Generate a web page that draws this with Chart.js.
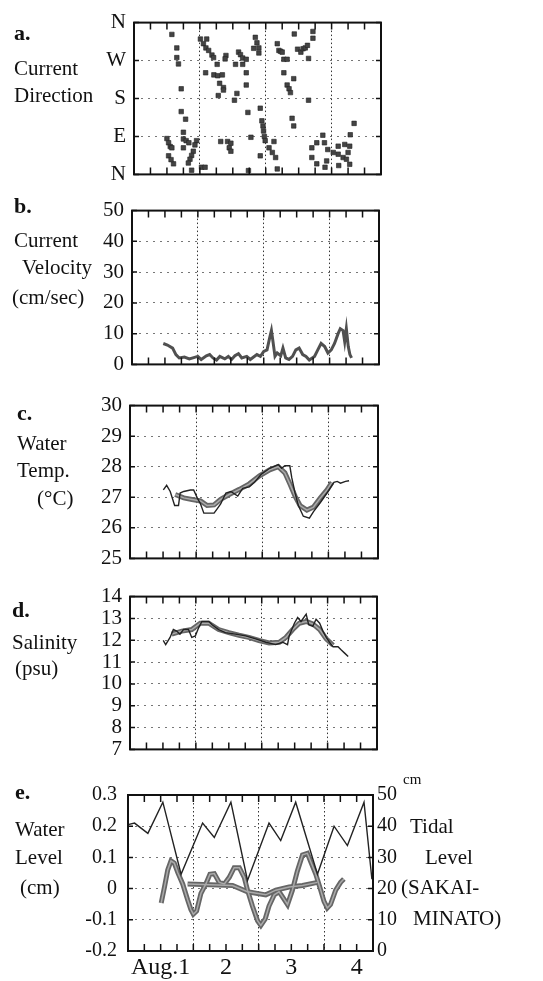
<!DOCTYPE html>
<html>
<head>
<meta charset="utf-8">
<script src="https://cdn.jsdelivr.net/npm/chart.js@4.4.0/dist/chart.umd.min.js"></script>
<style>
  body { margin: 0; background: #fff; }
  #wrap { position: relative; width: 543px; height: 981px; overflow: hidden;
          font-family: "Liberation Serif", "Times New Roman", serif; color: #111; }
  #wrap canvas { position: absolute; left: 0; }
  .lbl { position: absolute; font-size: 21px; line-height: 22px; white-space: nowrap; }
  .let { font-weight: bold; font-size: 22px; }
</style>
</head>
<body>
<div id="wrap">
  <canvas id="chA" width="543" height="193" style="top:2px"></canvas>
  <canvas id="chB" width="543" height="195" style="top:190px"></canvas>
  <canvas id="chC" width="543" height="194" style="top:385px"></canvas>
  <canvas id="chD" width="543" height="194" style="top:576px"></canvas>
  <canvas id="chE" width="543" height="209" style="top:772px"></canvas>

  <div class="lbl let" style="left:14px;top:22px">a.</div>
  <div class="lbl" style="left:14px;top:57px">Current</div>
  <div class="lbl" style="left:14px;top:84px">Direction</div>

  <div class="lbl let" style="left:14px;top:195px">b.</div>
  <div class="lbl" style="left:14px;top:229px">Current</div>
  <div class="lbl" style="left:22px;top:256px">Velocity</div>
  <div class="lbl" style="left:12px;top:286px">(cm/sec)</div>

  <div class="lbl let" style="left:17px;top:402px">c.</div>
  <div class="lbl" style="left:17px;top:432px">Water</div>
  <div class="lbl" style="left:17px;top:459px">Temp.</div>
  <div class="lbl" style="left:37px;top:487px">(°C)</div>

  <div class="lbl let" style="left:12px;top:599px">d.</div>
  <div class="lbl" style="left:12px;top:631px">Salinity</div>
  <div class="lbl" style="left:15px;top:657px">(psu)</div>

  <div class="lbl let" style="left:15px;top:781px">e.</div>
  <div class="lbl" style="left:15px;top:818px">Water</div>
  <div class="lbl" style="left:15px;top:846px">Level</div>
  <div class="lbl" style="left:20px;top:876px">(cm)</div>

  <div class="lbl" style="left:403px;top:768px;font-size:15px">cm</div>
  <div class="lbl" style="left:410px;top:815px">Tidal</div>
  <div class="lbl" style="left:425px;top:846px">Level</div>
  <div class="lbl" style="left:401px;top:876px">(SAKAI-</div>
  <div class="lbl" style="left:413px;top:907px">MINATO)</div>
</div>

<script>
// hours from Aug.1 00:00
var dayLines = [24, 48, 72];
var hourMarks = [6, 12, 18, 24, 30, 36, 42, 48, 54, 60, 66, 72, 78, 84];
var dayCenters = [12, 36, 60, 84];
var dayLabels = ['Aug.1', '2', '3', '4'];

// a. current direction (deg)
var dirTicks = [0, 90, 180, 270, 360];
var dirLabels = ['N', 'E', 'S', 'W', 'N'];
var dirHours = [13.8,15.6,15.6,16.2,17.2,17.2,18.8,18,18,19,20,18,12,12.6,13.2,13.8,12.6,14.4,13.5,22.8,22.2,21.6,21,20.4,19.8,21,24.6,
  24.2,25.3,26.2,27.2,28.4,29,26.5,30.3,33.5,33.2,37,39.6,38.1,38.8,39.6,44.2,44.8,45.5,45.5,43.6,40.9,26.1,29.1,30.5,32.2,31.2,32.6,32.6,30.7,36.6,
  37.5,40.9,40.9,41.5,46,46.6,47,47.2,47.5,47.8,42.6,31.6,34.1,35.3,34.7,35.3,46,25.9,41.7,
  52.2,52.8,53.4,54,54.6,55.8,58.4,59.6,60.8,61.6,62.4,63.2,65.2,65.2,63.6,54.6,58.2,55.8,56.5,57,63.6,57.6,58.2,51,49.2,50.4,51.6,52.2,64.8,66.6,
  68.8,69.4,70.6,72.6,74.4,76.2,77.4,64.8,66.6,70.2,69.6,74.4,76.8,78.6,74.6,78,78.6,80.2,78.8];
var dirDeg = [332,300,277,262,203,149,131,100,84,80,75,63,85,75,66,63,44,25,35,80,70,55,45,36,27,10,17,
  321,310,300,294,283,277,321,261,282,274,261,261,290,284,276,325,312,300,288,299,273,241,236,234,236,216,206,200,187,176,
  192,241,212,147,157,127,115,103,90,80,88,78,78,74,63,55,44,17,9,
  310,294,292,290,273,273,333,297,290,298,300,306,339,323,275,241,227,212,203,194,176,133,115,78,63,52,40,13,63,75,
  93,75,59,52,48,40,36,40,25,32,17,67,71,67,21,52,24,121,94];

// b. current velocity (cm/sec)
var velHours = [11.4,12.9,14.8,16,17.2,19.1,20.9,22.8,24,25.2,27.1,28.3,29.5,30.8,32,33.8,35.1,36.3,37.5,38.8,
  40,41.8,43.1,44.3,45.5,46.8,48,49.2,50.1,50.8,51.3,52.1,52.9,54.2,55,56,57.2,58.5,59.7,60.9,
  62.2,63.4,64.6,66.5,67.7,68.9,70.2,71.4,72.6,73.8,75.1,75.9,76.9,77.5,78.1,78.8,79.4,80];
var velocity = [6.8,6.3,5.3,3.2,2.1,2.4,1.8,2.3,2.6,1.6,2.8,3.2,2.1,1.4,2.6,1.8,2.6,1.6,2.8,3.5,
  2.1,2.6,1.6,2.4,3.2,2.6,4.2,4.7,8.4,11,7.9,2.6,3.7,2.8,5.3,2.1,1.6,2.6,4.7,5.3,
  3.2,2.6,1.4,2.6,4.7,6.8,5.8,3.7,4.7,6.8,10,11.6,11,7.4,11.6,5.8,3.2,2.1];

// c. water temperature (deg C)
var tempThinHours = [12.1,13.3,14.6,16.2,17.6,18.2,19.5,21.9,23.1,24.4,25.6,26.8,30.5,31.7,32.9,34.8,36.6,39.1,40.9,43.3,
  45.2,47.6,50.7,53.8,55,56.2,58,58.7,59.9,61.1,62.9,65.1,66.6,69.1,71.5,74,75.2,76.4,78.2,79.5];
var tempThin = [27.24,27.39,27.19,26.73,26.73,27.14,27.19,27.24,27.24,26.98,26.78,26.48,26.48,26.63,26.78,27.14,27.19,27.04,27.29,27.34,
  27.49,27.75,27.95,28.07,27.95,28.03,28.03,27.64,27.14,26.73,26.38,26.32,26.53,26.83,27.14,27.49,27.52,27.46,27.52,27.54];
var tempBandHours = [16.4,19.5,22.5,25.6,28,30.5,32.9,36,39.7,43.3,47,50.7,53.8,56.2,58,59.9,61.7,64.2,66.6,69.1,71.5,73.3];
var tempBand = [27.09,26.98,26.93,26.88,26.73,26.75,26.93,27.09,27.26,27.44,27.7,27.9,28.0,27.8,27.44,27.04,26.73,26.58,26.68,26.98,27.24,27.49];

// d. salinity (psu)
var salThinHours = [12.1,13,14.6,15.8,17,18.2,19.5,21.3,22.5,23.8,25,26.2,28.7,29.9,32.3,34.8,38.4,42.1,45.8,49.5,
  53.1,55.6,57.4,58,59.9,61.1,62.3,64.2,65.1,66.6,67.8,69.1,70.3,71.5,72.7,74,75.8,77,78.2,79.5];
var salThin = [11.99,11.8,12.13,12.49,12.42,12.28,12.49,12.49,12.13,12.2,12.57,12.86,12.86,12.71,12.49,12.35,12.28,12.2,12.06,11.91,
  11.8,11.91,11.8,12.2,12.78,13.04,12.86,13.2,12.71,12.64,12.96,12.78,12.42,12.13,11.91,11.7,11.7,11.55,11.41,11.26];
var salBandHours = [15.2,18.9,22.5,25.6,28.7,32.3,36,39.7,43.3,47,50.7,54.4,56.8,59.3,61.7,64.2,66.6,69.1,71.5,74];
var salBand = [12.28,12.42,12.49,12.78,12.78,12.49,12.35,12.23,12.13,11.99,11.88,11.91,12.13,12.49,12.78,12.86,12.75,12.49,12.06,11.77];

// e. water level (cm, left) and tidal level at Sakai-Minato (cm, right)
var levelHours = [12.2,13.4,14.6,15.8,17,18.3,20.1,21.9,23.1,24,25.2,26.8,28.6,30.1,31.7,33.5,35.4,37.2,39,40.9,
  42.7,43.9,45.7,47.6,48.8,50.4,51.8,53.7,55.5,56.7,58.6,60.4,62.2,64.1,65.9,67.1,69,70.8,72,73.2,74.4,76.3,78.1,79.3];
var level = [-0.046,0.005,0.06,0.089,0.082,0.051,0.015,-0.036,-0.067,-0.082,-0.072,-0.015,0.015,0.046,0.048,0.02,0.015,0.036,0.067,0.067,
  0.036,-0.005,-0.056,-0.103,-0.118,-0.097,-0.056,-0.02,-0.01,-0.026,-0.051,-0.005,0.056,0.108,0.113,0.087,0.046,-0.005,-0.041,-0.062,-0.051,-0.005,0.02,0.031];
var trendHours = [21.9,38.4,43.9,50.6,54.3,59.2,64.1,69.6];
var trend = [0.015,0.01,-0.01,-0.02,-0.005,0.005,0.01,0.02];
var tideHours = [0,2.4,7.3,12.8,19.5,27.4,31.7,37.8,43.9,51.8,56.1,61.6,69.6,75.7,80.6,86.7,89.6];
var tide = [40.5,41,37.7,47.7,24.6,41,36.4,47.7,22.6,41,35.4,47.7,24.6,40,33.8,47.7,23];

var serif = '"Liberation Serif", "Times New Roman", serif';

function pts(xs, ys) {
  return xs.map(function (x, i) { return { x: x, y: ys[i] }; });
}

// frame with inward tick marks, like the printed figure
var frameTicks = {
  id: 'frameTicks',
  afterDatasetsDraw: function (chart) {
    var ctx = chart.ctx, a = chart.chartArea, xs = chart.scales.x, ys = chart.scales.y;
    ctx.save();
    ctx.strokeStyle = '#111';
    ctx.lineWidth = 1.5;
    hourMarks.forEach(function (h) {
      var px = xs.getPixelForValue(h);
      ctx.beginPath();
      ctx.moveTo(px, a.top); ctx.lineTo(px, a.top + 7);
      ctx.moveTo(px, a.bottom); ctx.lineTo(px, a.bottom - 7);
      ctx.stroke();
    });
    ys.ticks.forEach(function (t) {
      var py = ys.getPixelForValue(t.value);
      ctx.beginPath();
      ctx.moveTo(a.left, py); ctx.lineTo(a.left + 5, py);
      ctx.moveTo(a.right, py); ctx.lineTo(a.right - 5, py);
      ctx.stroke();
    });
    ctx.lineWidth = 2;
    ctx.strokeRect(a.left, a.top, a.right - a.left, a.bottom - a.top);
    ctx.restore();
  }
};

function hourAxis() {
  return {
    type: 'linear', min: 0, max: 90, position: 'bottom',
    afterBuildTicks: function (s) { s.ticks = dayLines.map(function (v) { return { value: v }; }); },
    afterFit: function (s) { s.height = 0; },
    ticks: { display: false },
    grid: { color: '#333', lineWidth: 1, drawTicks: false },
    border: { display: false, dash: [1.5, 2.5] }
  };
}

function valueAxis(min, max, step, width, pad) {
  return {
    type: 'linear', min: min, max: max, position: 'left',
    afterFit: function (s) { s.width = width; },
    ticks: { stepSize: step, autoSkip: false, padding: pad, color: '#111', font: { family: serif, size: 21 } },
    grid: { color: '#777', lineWidth: 1, drawTicks: false },
    border: { display: false, dash: [2, 5] }
  };
}

function baseOptions(right, scales, padBottom) {
  return {
    responsive: false,
    animation: false,
    layout: { padding: { left: 0, right: right, top: 16, bottom: padBottom } },
    plugins: { legend: { display: false }, tooltip: { enabled: false } },
    scales: scales
  };
}

function thin(data, axis) {
  return { data: data, yAxisID: axis || 'y', borderColor: '#222', borderWidth: 1.4,
           pointRadius: 0, tension: 0, fill: false, order: 0 };
}
function bandOuter(data) {
  return { data: data, borderColor: '#666', borderWidth: 5, pointRadius: 0, tension: 0, fill: false, order: 2 };
}
function bandInner(data) {
  return { data: data, borderColor: '#aaa', borderWidth: 1.5, pointRadius: 0, tension: 0, fill: false, order: 1 };
}

// a.
var dirAxis = valueAxis(0, 360, 90, 134, 8);
dirAxis.afterBuildTicks = function (s) { s.ticks = dirTicks.map(function (v) { return { value: v }; }); };
dirAxis.ticks.callback = function (v, i) { return dirLabels[i]; };
new Chart(document.getElementById('chA'), {
  type: 'scatter',
  data: { datasets: [{
    data: pts(dirHours, dirDeg),
    pointStyle: 'rect', pointRadius: 3.2,
    backgroundColor: '#444', borderColor: '#222', borderWidth: 0.6
  }] },
  options: baseOptions(543 - 381, { x: hourAxis(), y: dirAxis }, 16),
  plugins: [frameTicks]
});

// b.
new Chart(document.getElementById('chB'), {
  type: 'line',
  data: { datasets: [{
    data: pts(velHours, velocity), borderColor: '#505050', borderWidth: 3,
    pointRadius: 0, tension: 0, fill: false
  }] },
  options: baseOptions(543 - 379, { x: hourAxis(), y: valueAxis(0, 50, 10, 132, 8) }, 16),
  plugins: [frameTicks]
});

// c.
new Chart(document.getElementById('chC'), {
  type: 'line',
  data: { datasets: [
    thin(pts(tempThinHours, tempThin)),
    bandInner(pts(tempBandHours, tempBand)),
    bandOuter(pts(tempBandHours, tempBand))
  ] },
  options: baseOptions(543 - 378, { x: hourAxis(), y: valueAxis(25, 30, 1, 130, 8) }, 16),
  plugins: [frameTicks]
});

// d.
new Chart(document.getElementById('chD'), {
  type: 'line',
  data: { datasets: [
    thin(pts(salThinHours, salThin)),
    bandInner(pts(salBandHours, salBand)),
    bandOuter(pts(salBandHours, salBand))
  ] },
  options: baseOptions(543 - 377, { x: hourAxis(), y: valueAxis(7, 14, 1, 130, 8) }, 16),
  plugins: [frameTicks]
});

// e.
var levelAxis = valueAxis(-0.2, 0.3, 0.1, 128, 11);
levelAxis.ticks.font.size = 20;
levelAxis.ticks.callback = function (v) { return String(Math.round(v * 10) / 10); };
var tideAxis = {
  type: 'linear', min: 0, max: 50, position: 'right',
  afterFit: function (s) { s.width = 543 - 373; },
  ticks: { stepSize: 10, autoSkip: false, padding: 4, color: '#111', font: { family: serif, size: 20 } },
  grid: { display: false, drawTicks: false },
  border: { display: false }
};
var dayAxis = {
  type: 'linear', min: 0, max: 90, position: 'bottom',
  afterBuildTicks: function (s) { s.ticks = dayCenters.map(function (v) { return { value: v }; }); },
  afterFit: function (s) { s.height = 30; },
  ticks: { autoSkip: false, maxRotation: 0, padding: 2, color: '#111', font: { family: serif, size: 24 },
           callback: function (v, i) { return dayLabels[i]; } },
  grid: { display: false, drawTicks: false },
  border: { display: false }
};
new Chart(document.getElementById('chE'), {
  type: 'line',
  data: { datasets: [
    thin(pts(tideHours, tide), 'y2'),
    bandInner(pts(levelHours, level)),
    bandOuter(pts(levelHours, level)),
    bandInner(pts(trendHours, trend)),
    bandOuter(pts(trendHours, trend))
  ] },
  options: baseOptions(0, { x: hourAxis(), xd: dayAxis, y: levelAxis, y2: tideAxis }, 0),
  plugins: [frameTicks]
});
</script>
</body>
</html>
